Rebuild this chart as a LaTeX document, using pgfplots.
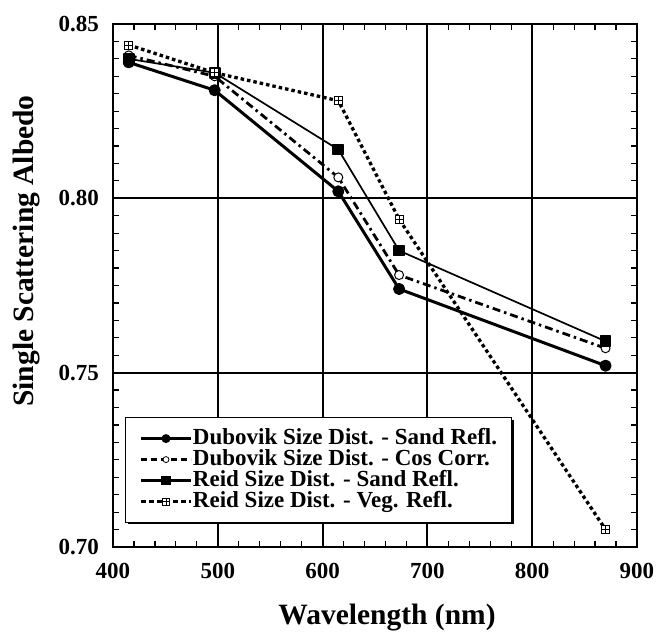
\documentclass[border=0pt]{standalone}
\usepackage{fontspec}
\setmainfont{Liberation Serif}
\usepackage{pgfplots}
\pgfplotsset{compat=1.18}
\usetikzlibrary{plotmarks}
\pgfdeclareplotmark{boxplus}{%
  \pgfpathrectangle{\pgfpoint{-\pgfplotmarksize}{-\pgfplotmarksize}}{\pgfpoint{2\pgfplotmarksize}{2\pgfplotmarksize}}%
  \pgfusepathqfillstroke
  \pgfpathmoveto{\pgfpoint{-\pgfplotmarksize}{0pt}}\pgfpathlineto{\pgfpoint{\pgfplotmarksize}{0pt}}%
  \pgfpathmoveto{\pgfpoint{0pt}{-\pgfplotmarksize}}\pgfpathlineto{\pgfpoint{0pt}{\pgfplotmarksize}}%
  \pgfusepathqstroke}
\begin{document}
\begin{tikzpicture}
\path[use as bounding box] (-113pt,-85pt) rectangle (544pt,547pt);
\begin{axis}[
  at={(0pt,0pt)}, anchor=south west,
  scale only axis, width=524pt, height=523pt,
  xmin=400, xmax=900, ymin=0.70, ymax=0.85,
  xtick={400,500,600,700,800,900},
  ytick={0.70,0.75,0.80,0.85},
  minor x tick num=4, minor y tick num=9,
  /pgf/number format/assume math mode=true,
  yticklabel style={/pgf/number format/fixed, /pgf/number format/precision=2, /pgf/number format/fixed zerofill, inner sep=0pt, xshift=-14pt},
  xticklabel style={inner sep=0pt, yshift=-16pt},
  every tick label/.append style={font=\fontsize{23}{23}\selectfont\bfseries},
  tick align=inside,
  major tick length=8pt, minor tick length=6pt,
  every tick/.style={black, line width=1.2pt},
  grid=major,
  major grid style={black, line width=2pt},
  axis line style={line width=2.5pt},
  xlabel={Wavelength (nm)},
  ylabel={Single Scattering Albedo},
  xlabel style={at={(axis description cs:0.523,-0.149)}, anchor=base, inner sep=0pt, font=\fontsize{29.5}{29.5}\selectfont\bfseries},
  ylabel style={at={(axis description cs:-0.1908,0.566)}, anchor=north, rotate=0, inner sep=0pt, font=\fontsize{29.5}{29.5}\selectfont\bfseries},
  legend image code/.code={%
    \path[draw=none, fill=none] (0pt,-4pt) rectangle (52pt,4pt);
    \draw[#1, mark=none] (0pt,0pt) -- (50pt,0pt);
    \draw[#1, only marks] plot coordinates {(25pt,0pt)};},
  legend cell align=left,
  legend style={at={(axis description cs:0.0229,0.2486)}, anchor=north west,
    draw=black, line width=1.2pt, fill=white,
    font=\fontsize{23}{23}\selectfont\bfseries,
    inner xsep=14pt, inner ysep=10.5pt, column sep=0pt, row sep=0pt,
    nodes={inner xsep=0pt, inner ysep=0pt, text height=16pt, text depth=5pt},
    cells={anchor=west}},
]
% legend shadow
\fill[black] (axis description cs:0.0286,0.0440) rectangle (axis description cs:0.766,0.2428);
% Dubovik Size Dist. - Sand Refl.
\addplot[black, line width=3pt, line join=round, mark=*, mark size=4.5pt, mark options={solid}, forget plot]
  coordinates {(415,0.839) (497,0.831) (615,0.802) (673,0.774) (870,0.752)};
% Dubovik Size Dist. - Cos Corr.
\addplot[black, line width=2.8pt, dash pattern=on 8pt off 4pt on 2.5pt off 4pt, mark=*, mark size=4.5pt, mark options={solid, fill=white, draw=black, line width=1pt}, forget plot]
  coordinates {(415,0.841) (497,0.835) (615,0.806) (673,0.778) (870,0.757)};
% Reid Size Dist. - Sand Refl.
\addplot[black, line width=1.7pt, line join=round, mark=square*, mark size=5pt, mark options={solid}, forget plot]
  coordinates {(415,0.840) (497,0.836) (615,0.814) (673,0.785) (870,0.759)};
% Reid Size Dist. - Veg. Refl.
\addplot[black, line width=3.3pt, dash pattern=on 3.5pt off 3pt, mark=boxplus, mark size=4pt, mark options={solid, fill=white, line width=0.8pt}, forget plot]
  coordinates {(415,0.844) (497,0.836) (615,0.828) (673,0.794) (870,0.705)};
\addlegendimage{black, line width=2.8pt, mark=*, mark size=3pt, mark options={solid}}
\addlegendentry{Dubovik Size Dist. - Sand Refl.}
\addlegendimage{black, line width=2.4pt, dash pattern=on 6pt off 4pt, mark=*, mark size=3pt, mark options={solid, fill=white, draw=black, line width=0.8pt}}
\addlegendentry{Dubovik Size Dist. - Cos Corr.}
\addlegendimage{black, line width=2.4pt, mark=square*, mark size=3.5pt, mark options={solid}}
\addlegendentry{Reid Size Dist. - Sand Refl.}
\addlegendimage{black, line width=2.4pt, dash pattern=on 5pt off 3pt, mark=boxplus, mark size=3.5pt, mark options={solid, fill=white, line width=0.7pt}}
\addlegendentry{Reid Size Dist. - Veg. Refl.}
\end{axis}
\end{tikzpicture}
\end{document}
